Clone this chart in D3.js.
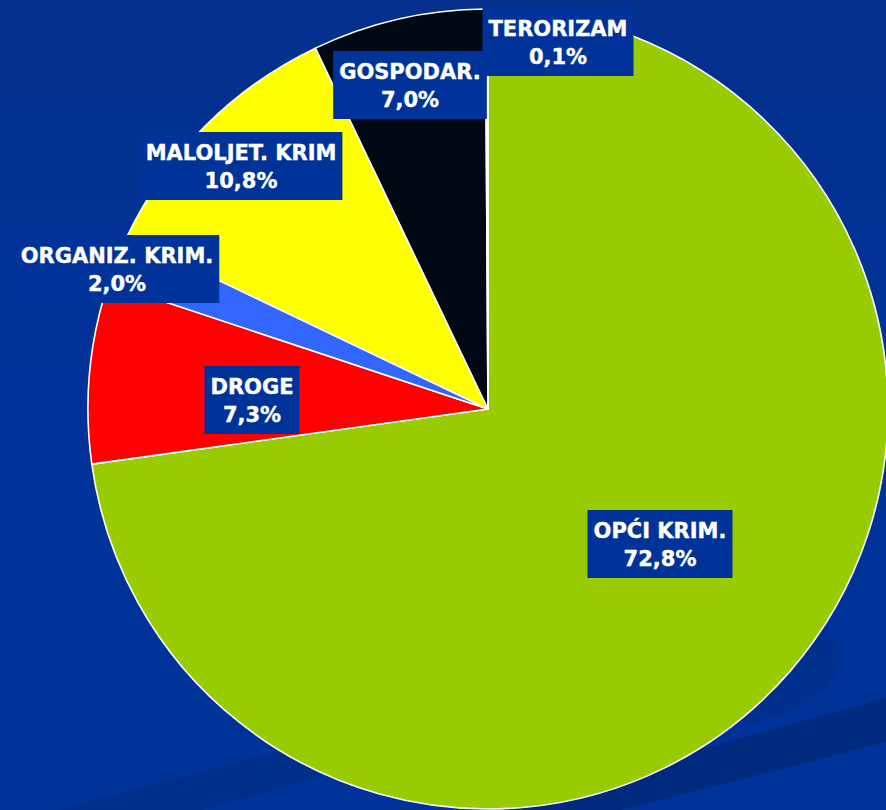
<!DOCTYPE html>
<html>
<head>
<meta charset="utf-8">
<script src="https://cdn.jsdelivr.net/npm/d3@7"></script>
<style>
  html, body { margin: 0; padding: 0; background: #003399; }
  svg { display: block; }
</style>
</head>
<body>
<svg id="chart"></svg>
<script>
/* data */
var categories = ['OPĆI KRIM.', 'DROGE', 'ORGANIZ. KRIM.', 'MALOLJET. KRIM', 'GOSPODAR.', 'TERORIZAM'];
var shares = [72.8, 7.3, 2.0, 10.8, 7.0, 0.1];
var sliceColors = ['#99cc00', '#ff0000', '#3366ff', '#ffff00', '#000814', '#ffffff'];

/* label box centres, relative to the pie centre (layout only) */
var labelOffsets = [[172, 135], [-236, -9], [-371, -140], [-247, -243], [-78, -324], [70, -367]];

var width = 886;
var height = 810;
var cx = 488;
var cy = 409;
var radius = 400;

var svg = d3.select('#chart')
    .attr('width', width)
    .attr('height', height);

/* background */
var defs = svg.append('defs');
var grad = defs.append('linearGradient')
    .attr('id', 'bg')
    .attr('x1', 0).attr('y1', 0).attr('x2', 0).attr('y2', 1);
grad.append('stop').attr('offset', '0%').attr('stop-color', '#042f8c');
grad.append('stop').attr('offset', '45%').attr('stop-color', '#003399');
grad.append('stop').attr('offset', '100%').attr('stop-color', '#003399');

svg.append('rect')
    .attr('width', width)
    .attr('height', height)
    .attr('fill', 'url(#bg)');

// darker swooshes at the bottom, mostly hidden behind the pie
svg.append('path')
    .attr('d', 'M56,810 L520,688 L520,718 L203,810 Z')
    .attr('fill', '#002f8b');
svg.append('path')
    .attr('d', 'M886,698 L480,810 L480,815 L602,815 L886,742 Z')
    .attr('fill', '#002a7e');
svg.append('path')
    .attr('d', 'M812,622 C858,648 852,694 752,724 L700,700 Z')
    .attr('fill', '#00308f');

/* pie */
var pie = d3.pie()
    .sort(null)
    .value(function(d){ return d; });

var arc = d3.arc()
    .innerRadius(0)
    .outerRadius(radius);

var arcs = pie(shares);

var g = svg.append('g')
    .attr('transform', 'translate(' + cx + ',' + cy + ')');

g.selectAll('path.slice')
    .data(arcs)
    .enter()
    .append('path')
    .attr('class', 'slice')
    .attr('d', arc)
    .attr('fill', function(d, i){ return sliceColors[i]; })
    .attr('stroke', '#ffffff')
    .attr('stroke-width', 1.6)
    .attr('stroke-linejoin', 'round');

/* labels */
var labels = g.selectAll('g.label')
    .data(arcs)
    .enter()
    .append('g')
    .attr('class', 'label')
    .attr('transform', function(d, i){
        return 'translate(' + labelOffsets[i][0] + ',' + labelOffsets[i][1] + ')';
    });

labels.append('rect')
    .attr('fill', '#003399');

labels.each(function(d, i){
    var lab = d3.select(this);
    var lines = [categories[i], d3.format('.1f')(shares[i]).replace('.', ',') + '%'];
    var maxW = 0;
    lines.forEach(function(line, k){
        var t = lab.append('text')
            .attr('x', 0)
            .attr('y', k === 0 ? -6 : 22)
            .attr('text-anchor', 'middle')
            .attr('fill', '#ffffff')
            .attr('stroke', '#ffffff')
            .attr('stroke-width', 0.4)
            .style('font-family', '"DejaVu Sans", Verdana, sans-serif')
            .style('font-weight', 'bold')
            .style('font-size', '21px')
            .text(line);
        maxW = Math.max(maxW, t.node().getComputedTextLength());
    });
    lab.select('rect')
        .attr('x', -maxW / 2 - 6)
        .attr('y', -34)
        .attr('width', maxW + 12)
        .attr('height', 68);
});
</script>
</body>
</html>
